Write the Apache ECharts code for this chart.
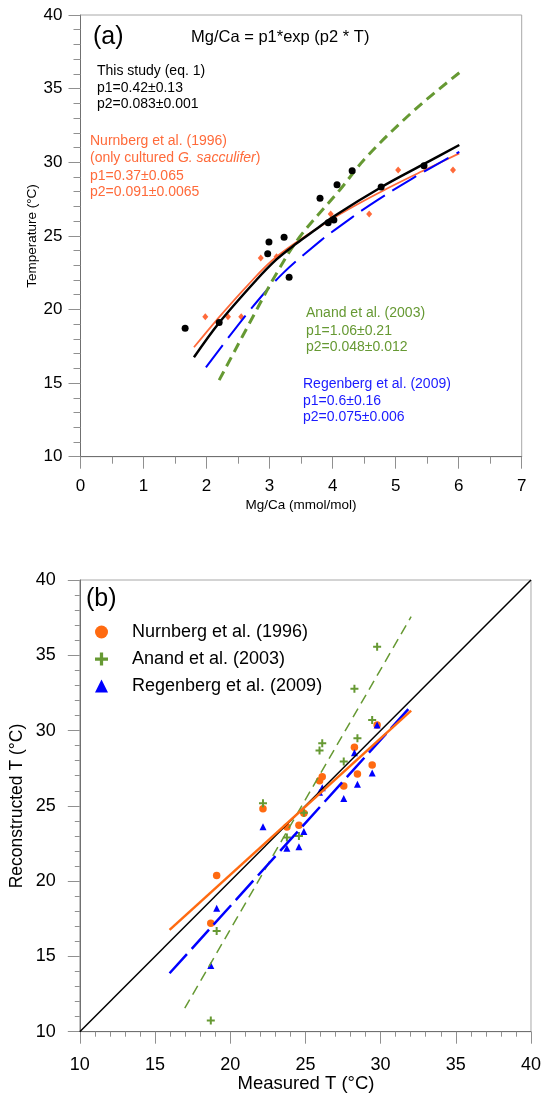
<!DOCTYPE html>
<html><head><meta charset="utf-8">
<script src="https://cdn.jsdelivr.net/npm/echarts@6/dist/echarts.min.js"></script>
<style>html,body{margin:0;padding:0;background:#fff}#c{width:544px;height:1098px}</style>
</head><body><div id="c"></div>
<script>
// ---------- Panel (a) data ----------
const panelAXTicks = [0, 1, 2, 3, 4, 5, 6, 7];
const panelAYTicks = [10, 15, 20, 25, 30, 35, 40];
// This study (black dots)
const thisStudyMgCa = [1.66, 2.20, 2.97, 2.99, 3.23, 3.31, 3.80, 3.93, 4.02, 4.07, 4.31, 4.77, 5.45];
const thisStudyT    = [18.72, 19.12, 23.78, 24.58, 24.90, 22.18, 27.55, 25.89, 26.07, 28.47, 29.42, 28.32, 29.76];
// Nurnberg et al. (1996) cultured G. sacculifer (orange diamonds)
const nurnbergMgCa = [1.98, 2.34, 2.55, 2.86, 3.11, 3.97, 4.58, 5.04, 5.91];
const nurnbergT    = [19.50, 19.50, 19.50, 23.49, 23.58, 26.48, 26.48, 29.47, 29.47];
// Calibration curves
const thisFitMgCa = [1.80, 2.20, 2.79, 3.11, 3.43, 3.72, 4.01, 4.77, 5.46, 6.01];
const thisFitT    = [16.75, 19.10, 22.00, 23.40, 24.49, 25.39, 26.30, 28.30, 29.90, 31.17];
const nurnbergFitMgCa = [1.80, 2.16, 2.63, 3.11, 4.01, 4.77, 5.46, 6.01];
const nurnbergFitT    = [17.43, 19.28, 21.54, 23.58, 26.19, 28.00, 29.47, 30.60];
const regenbergFitMgCa = [1.99, 2.69, 3.21, 3.82, 4.03, 4.59, 5.27, 6.01];
const regenbergFitT    = [16.07, 19.96, 22.45, 24.71, 25.39, 27.09, 28.91, 30.71];
const anandFitMgCa = [2.20, 2.82, 3.11, 3.48, 4.11, 4.54, 5.30, 6.01];
const anandFitT    = [15.20, 20.18, 22.45, 24.94, 28.10, 30.37, 33.55, 36.08];

// ---------- Panel (b) data ----------
const panelBTicks = [10, 15, 20, 25, 30, 35, 40];
const measuredT     = [18.71, 19.10, 22.18, 23.77, 24.57, 24.90, 25.94, 26.12, 27.55, 28.26, 28.46, 29.44, 29.77];
const nurnbergRecT  = [17.20, 20.37, 24.81, 23.60, 23.71, 24.51, 26.67, 26.94, 26.32, 28.89, 27.12, 27.72, 30.37];
const anandRecT     = [10.74, 16.69, 25.17, 22.89, 23.00, 24.55, 28.67, 29.16, 27.94, 32.78, 29.49, 30.70, 35.57];
const regenbergRecT = [14.39, 18.20, 23.62, 22.18, 22.29, 23.29, 25.90, 26.21, 25.48, 28.53, 26.43, 27.18, 30.37];
// Regression lines (end points)
const oneToOneX = [10, 40];
const oneToOneY = [10, 40];
const nurnbergLineX = [15.97, 32.03];
const nurnbergLineY = [16.76, 31.32];
const regenbergLineX = [15.97, 32.03];
const regenbergLineY = [13.88, 31.63];
const anandLineX = [16.98, 32.03];
const anandLineY = [11.56, 37.56];

// ---------- helpers ----------
const FONT = '"Liberation Sans", Arial, sans-serif';
const zip = (a, b) => a.map((v, i) => [v, b[i]]);
const C_OR_A = '#ff6a3a', C_OR_B = '#ff6a10', C_GR = '#669933', C_BL = '#0000ff';
const PLUS = 'path://M3,0H5V3H8V5H5V8H3V5H0V3H3Z';

function valAxis(ticks, gridIndex, minorSplit, minorLen, labelSize, margin) {
  return {
    type: 'value', gridIndex,
    min: ticks[0], max: ticks[ticks.length - 1], interval: ticks[1] - ticks[0],
    axisLine: { show: true, onZero: false, lineStyle: { color: '#707070', width: 1 } },
    axisTick: { show: true, inside: false, length: 12, lineStyle: { color: '#909090' } },
    minorTick: { show: true, splitNumber: minorSplit, length: minorLen, lineStyle: { color: '#909090' } },
    splitLine: { show: false }, minorSplitLine: { show: false },
    axisLabel: { color: '#000', fontSize: labelSize, fontFamily: FONT, margin: margin,
      showMinLabel: true, showMaxLabel: true, hideOverlap: false }
  };
}
function curve(xs, ys, color, width, dash, xi, z) {
  return { type: 'line', xAxisIndex: xi, yAxisIndex: xi, data: zip(xs, ys), smooth: 0.35,
    showSymbol: false, symbol: 'none', silent: true, z: z || 3,
    lineStyle: { color, width, type: dash || 'solid', cap: 'butt' } };
}
function dots(name, xs, ys, symbol, size, color, xi, z) {
  const s = { type: 'scatter', xAxisIndex: xi, yAxisIndex: xi, data: zip(xs, ys),
    symbol, symbolSize: size, itemStyle: { color, opacity: 1 }, z, silent: true };
  if (name) s.name = name;
  return s;
}
function txt(x, y, text, color, size, extra) {
  return Object.assign({ type: 'text', x, y, silent: true,
    style: Object.assign({ text, fill: color, fontSize: size, fontFamily: FONT,
      align: 'left', verticalAlign: 'middle', textAlign: 'left', textVerticalAlign: 'middle' },
      (extra && extra.style) || {}) }, extra && extra.rot ? { rotation: extra.rot } : {});
}

const chart = echarts.init(document.getElementById('c'), null, { renderer: 'canvas' });
const option = {
  animation: false,
  backgroundColor: '#fff',
  grid: [
    { left: 80.5, top: 15, right: 22.3, bottom: 641.3, show: true, borderColor: '#a8a8a8', borderWidth: 1, backgroundColor: 'transparent' },
    { left: 79.8, top: 580, right: 12.1, bottom: 66.3, show: true, borderColor: '#a8a8a8', borderWidth: 1, backgroundColor: 'transparent' }
  ],
  xAxis: [
    valAxis(panelAXTicks, 0, 2, 7, 17, 21),
    valAxis(panelBTicks, 1, 5, 5, 18, 24)
  ],
  yAxis: [
    valAxis(panelAYTicks, 0, 5, 7, 17, 18),
    valAxis(panelBTicks, 1, 5, 5, 18, 24)
  ],
  legend: {
    orient: 'vertical', left: 90, top: 618, itemWidth: 13, itemHeight: 13, itemGap: 9,
    selectedMode: false,
    textStyle: { fontSize: 18, fontFamily: FONT, color: '#000', padding: [0, 0, 0, 19] },
    data: [
      { name: 'Nurnberg et al. (1996)', icon: 'circle' },
      { name: 'Anand et al. (2003)', icon: PLUS },
      { name: 'Regenberg et al. (2009)', icon: 'triangle' }
    ]
  },
  series: [
    // panel (a)
    dots(null, nurnbergMgCa, nurnbergT, 'diamond', [6, 7], C_OR_A, 0, 2),
    curve(nurnbergFitMgCa, nurnbergFitT, C_OR_A, 1.8, 'solid', 0, 3),
    curve(regenbergFitMgCa, regenbergFitT, C_BL, 2, [28, 9], 0, 3),
    curve(anandFitMgCa, anandFitT, C_GR, 3, [10, 6], 0, 3),
    curve(thisFitMgCa, thisFitT, '#000', 2.5, 'solid', 0, 4),
    dots(null, thisStudyMgCa, thisStudyT, 'circle', 7, '#000', 0, 5),
    // panel (b)
    dots('Nurnberg et al. (1996)', measuredT, nurnbergRecT, 'circle', 7.5, C_OR_B, 1, 2),
    dots('Anand et al. (2003)', measuredT, anandRecT, PLUS, 8, C_GR, 1, 2),
    dots('Regenberg et al. (2009)', measuredT, regenbergRecT, 'triangle', 7, C_BL, 1, 2),
    curve(oneToOneX, oneToOneY, '#000', 1.5, 'solid', 1, 3),
    curve(anandLineX, anandLineY, C_GR, 1.5, [10, 6], 1, 3),
    curve(regenbergLineX, regenbergLineY, C_BL, 2.5, [26, 7], 1, 3),
    curve(nurnbergLineX, nurnbergLineY, C_OR_B, 2.5, 'solid', 1, 3)
  ],
  graphic: [
    txt(93, 37, '(a)', '#000', 25),
    txt(191, 37, 'Mg/Ca = p1*exp (p2 * T)', '#000', 16.5),
    txt(97, 71, 'This study (eq. 1)', '#000', 14),
    txt(97, 88, 'p1=0.42±0.13', '#000', 14),
    txt(97, 104.5, 'p2=0.083±0.001', '#000', 14),
    txt(90, 140.7, 'Nurnberg et al. (1996)', C_OR_A, 14),
    txt(90, 158.3, '(only cultured {i|G. sacculifer})', C_OR_A, 14,
      { style: { rich: { i: { fontStyle: 'italic', fontSize: 14, fontFamily: FONT, fill: C_OR_A } } } }),
    txt(90, 175.7, 'p1=0.37±0.065', C_OR_A, 14),
    txt(90, 192.3, 'p2=0.091±0.0065', C_OR_A, 14),
    txt(306, 313.3, 'Anand et al. (2003)', C_GR, 14),
    txt(306, 330.7, 'p1=1.06±0.21', C_GR, 14),
    txt(306, 347.3, 'p2=0.048±0.012', C_GR, 14),
    txt(303, 384, 'Regenberg et al. (2009)', '#1a1aff', 14),
    txt(303, 401, 'p1=0.6±0.16', '#1a1aff', 14),
    txt(303, 417.5, 'p2=0.075±0.006', '#1a1aff', 14),
    txt(301, 505, 'Mg/Ca (mmol/mol)', '#000', 13.5, { style: { align: 'center', textAlign: 'center' } }),
    txt(32, 236, 'Temperature (°C)', '#000', 13.5, { rot: Math.PI / 2, style: { align: 'center', textAlign: 'center' } }),
    txt(86, 599, '(b)', '#000', 25),
    txt(17, 806, 'Reconstructed T (°C)', '#000', 17.5, { rot: Math.PI / 2, style: { align: 'center', textAlign: 'center' } }),
    txt(306, 1084, 'Measured T (°C)', '#000', 18.5, { style: { align: 'center', textAlign: 'center' } })
  ]
};
chart.setOption(option);
</script></body></html>
